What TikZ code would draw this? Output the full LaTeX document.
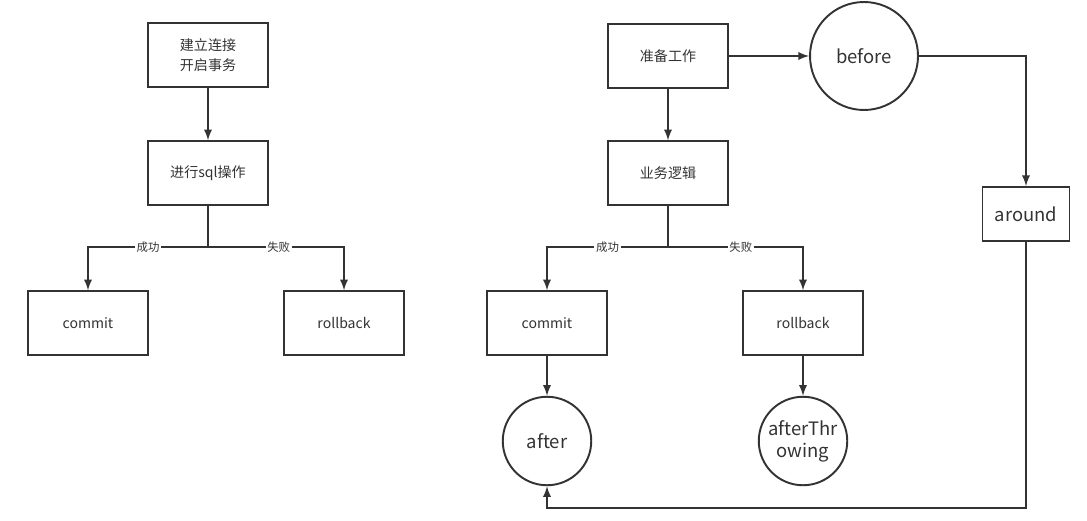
\documentclass[tikz,border=0pt]{standalone}
\usepackage{fontspec}
\setmainfont{Noto Sans CJK SC}
\usepackage{xcolor}
\usepackage{tikz}
\usetikzlibrary{arrows}

\definecolor{linegray}{HTML}{333333}

\tikzset{
  box/.style={draw=linegray, line width=1.1pt, minimum width=2.4cm, minimum height=1.27cm,
    align=center, font=\fontsize{8}{11}\selectfont, text=linegray},
  bigbox/.style={box, minimum width=1.74cm, minimum height=1.08cm, font=\fontsize{10.5}{13}\selectfont},
  round/.style={draw=linegray, line width=1.1pt, circle, inner sep=0pt, align=center,
    font=\fontsize{10.5}{12.5}\selectfont, text=linegray},
  lab/.style={fill=white, inner sep=1pt, font=\fontsize{6.5}{8}\selectfont, text=linegray},
  link/.style={draw=linegray, line width=1.1pt, >=latex}
}

\begin{document}
\begin{tikzpicture}[x=0.02cm, y=-0.02cm]
            \useasboundingbox (0,0) rectangle (1087,520);

            % left: transaction
            \node[box] (conn) at (208,55) {建立连接\\开启事务};
            \node[box] (sql) at (208,173) {进行sql操作};
            \node[box] (commitL) at (88,323) {commit};
            \node[box] (rollbackL) at (344,323) {rollback};
            \coordinate (splitL) at (208,247);

            \draw[link,->] (conn) -- (sql);
            \draw[link] (sql) -- (splitL);
            \draw[link,->] (splitL) -| node[lab, pos=.25] {成功} (commitL);
            \draw[link,->] (splitL) -| node[lab, pos=.26] {失败} (rollbackL);

            % right: advice
            \node[box] (prep) at (668,56) {准备工作};
            \node[round, minimum size=2.16cm] (before) at (864,56) {before};
            \node[box] (logic) at (668,173) {业务逻辑};
            \node[box] (commitR) at (547,323) {commit};
            \node[box] (rollbackR) at (803,323) {rollback};
            \node[round, minimum size=1.77cm] (after) at (547,441) {after};
            \node[round, minimum size=1.77cm] (throwing) at (803,441) {afterThr\\owing};
            \node[bigbox] (around) at (1026,214) {around};
            \coordinate (splitR) at (668,247);
            \coordinate (loop) at (1026,508);

            \draw[link,->] (prep) -- (before);
            \draw[link,->] (prep) -- (logic);
            \draw[link] (logic) -- (splitR);
            \draw[link,->] (splitR) -| node[lab, pos=.25] {成功} (commitR);
            \draw[link,->] (splitR) -| node[lab, pos=.27] {失败} (rollbackR);
            \draw[link,->] (commitR) -- (after);
            \draw[link,->] (rollbackR) -- (throwing);
            \draw[link,->] (before) -| (around);
            \draw[link,->] (around) -- (loop) -| (after);
          \end{tikzpicture}
\end{document}
